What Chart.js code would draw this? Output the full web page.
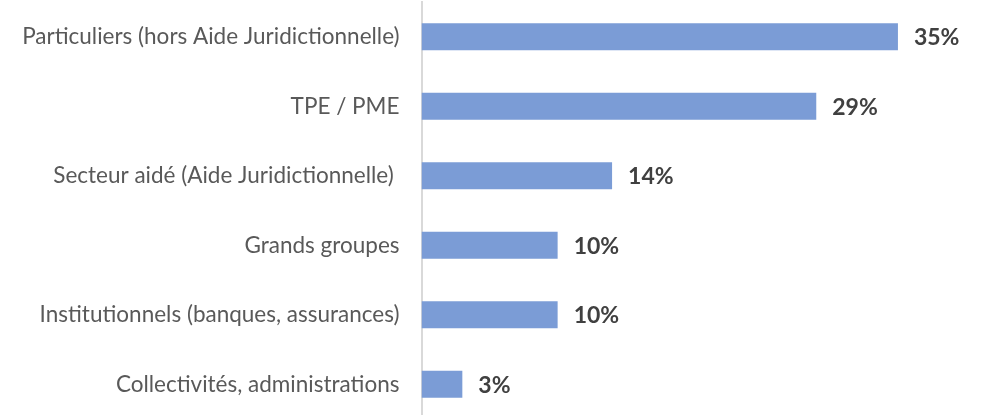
<!DOCTYPE html>
<html>
<head>
<meta charset="utf-8">
<script src="https://cdn.jsdelivr.net/npm/chart.js@4.4.0/dist/chart.umd.min.js"></script>
<style>
  html, body { margin: 0; padding: 0; background: #fff; overflow: hidden; }
  canvas { display: block; }
</style>
</head>
<body>
<canvas id="myChart" width="989" height="420"></canvas>
<script>
// categories and shares (percent), top to bottom
var categories = [
  "Particuliers (hors Aide Juridictionnelle)",
  "TPE / PME",
  "Secteur aidé (Aide Juridictionnelle) ",
  "Grands groupes",
  "Institutionnels (banques, assurances)",
  "Collectivités, administrations"
];
var shares = [35, 29, 14, 10, 10, 3];

// draws the "35%" style labels at the end of each bar
var barLabels = {
  id: "barLabels",
  afterDatasetsDraw: function(chart) {
    var ctx = chart.ctx;
    var meta = chart.getDatasetMeta(0);
    ctx.save();
    ctx.font = "bold 23px Lato";
    ctx.fillStyle = "#404040";
    ctx.textAlign = "left";
    ctx.textBaseline = "middle";
    meta.data.forEach(function(bar, i) {
      ctx.fillText(shares[i] + "%", bar.x + 16, bar.y + 1);
    });
    ctx.restore();
  }
};

var ctx = document.getElementById("myChart").getContext("2d");
var myBarChart = new Chart(ctx, {
  type: "bar",
  data: {
    labels: categories,
    datasets: [{
      data: shares,
      backgroundColor: "#7B9CD6",
      borderWidth: 0,
      barPercentage: 0.39,
      categoryPercentage: 1
    }]
  },
  options: {
    indexAxis: "y",
    responsive: false,
    animation: false,
    layout: { padding: { top: 2, bottom: 1, left: 0, right: 23 } },
    plugins: {
      legend: { display: false },
      tooltip: { enabled: false }
    },
    scales: {
      x: {
        display: false,
        min: 0,
        max: 40
      },
      y: {
        afterFit: function(scale) {
          scale.width = 421.5;
          // the tick padding should only push labels sideways
          scale.paddingTop = 0;
          scale.paddingBottom = 0;
        },
        grid: { display: false, drawTicks: false },
        border: { display: true, color: "#d9d9d9", width: 2 },
        ticks: {
          padding: 22,
          color: "#595959",
          font: { family: "Lato", size: 22.5 }
        }
      }
    }
  },
  plugins: [barLabels]
});
</script>
</body>
</html>
